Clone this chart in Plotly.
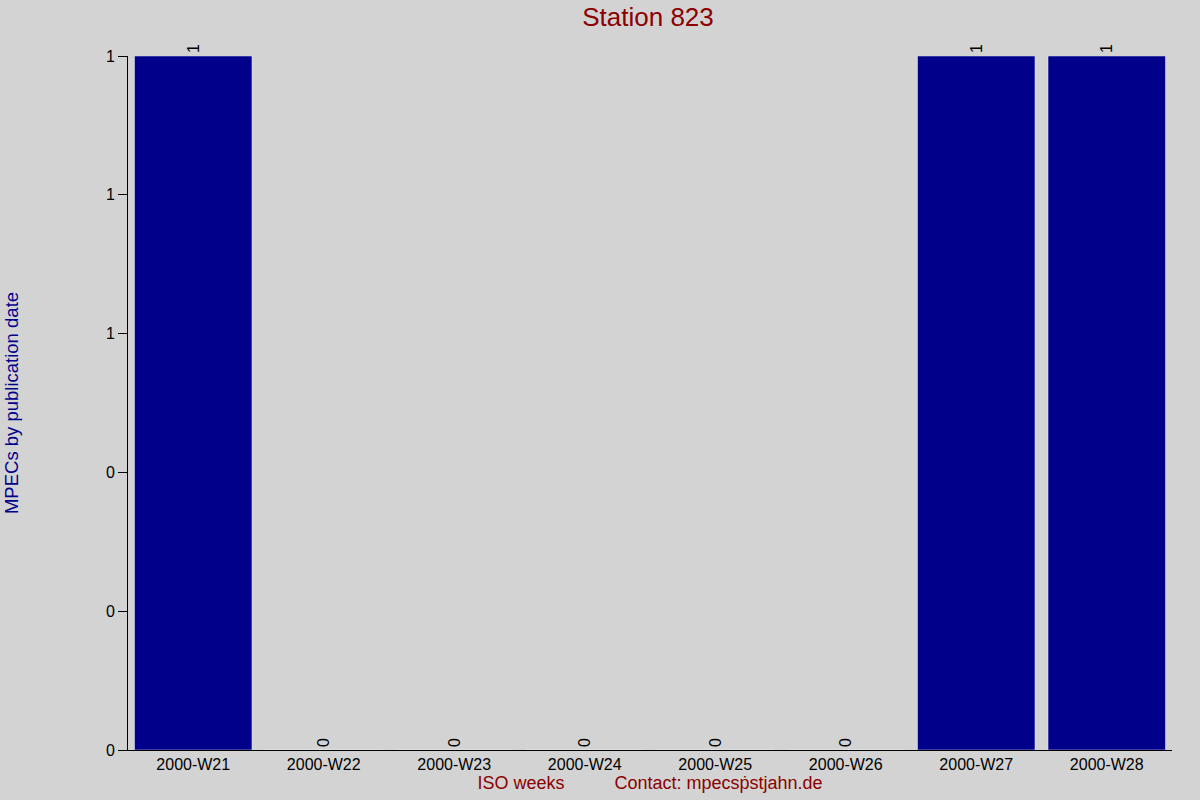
import plotly.graph_objects as go

weeks = ["2000-W21", "2000-W22", "2000-W23", "2000-W24",
         "2000-W25", "2000-W26", "2000-W27", "2000-W28"]
mpecs = [1, 0, 0, 0, 0, 0, 1, 1]

fig = go.Figure(go.Bar(
    x=weeks, y=mpecs,
    marker_color="#00008b",
    text=[str(v) for v in mpecs],
    textposition="outside",
    textangle=-90,
    textfont=dict(size=16, color="black"),
    cliponaxis=False,
))

fig.update_layout(
    width=1200, height=800,
    paper_bgcolor="#d3d3d3", plot_bgcolor="#d3d3d3",
    font=dict(family="Liberation Sans, Arial", size=16, color="black"),
    title=dict(text="Station 823", x=0.54, xanchor="center", y=0.979, yanchor="middle",
               font=dict(size=26, color="#8b0000")),
    margin=dict(l=128, r=28, t=56, b=50),
    bargap=0.1,
    showlegend=False,
)
fig.update_xaxes(
    showline=True, linecolor="black", linewidth=1,
    ticks="", showgrid=False, automargin=False,
    title=dict(text="ISO weeks          Contact: mpecsṗstjahn.de",
               font=dict(size=18, color="#8b0000"), standoff=4),
)
fig.update_yaxes(
    range=[0, 1], dtick=0.2, tickformat="d",
    showline=True, linecolor="black", linewidth=1,
    ticks="outside", ticklen=9, tickcolor="black",
    showgrid=False, zeroline=False, automargin=False,
    title=dict(text="MPECs by publication date",
               font=dict(size=18.5, color="#00008b"), standoff=82),
)

# drop the browser's default body margin so the grey fills the window
fig.write_html("out.html", config={"displayModeBar": False},
               post_script="document.body.style.margin='0';")
